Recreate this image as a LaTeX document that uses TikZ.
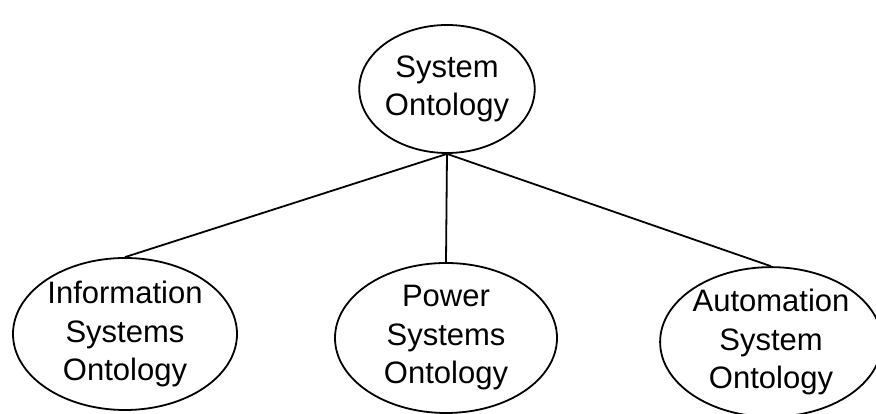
\documentclass[tikz,border=0pt]{standalone}
\usepackage{fontspec}
\setmainfont{Liberation Sans}
\usetikzlibrary{shapes.geometric}
\begin{document}
\begin{tikzpicture}[x=1pt,y=1pt,
  onto/.style={ellipse,draw,line width=1.8pt,inner sep=0pt,align=center,
    font=\fontsize{31}{38.5}\selectfont},
  link/.style={line width=1.8pt}]
\useasboundingbox (0,0) rectangle (876,414);
\node[onto,minimum width=122pt,minimum height=128pt] (sys) at (447,325) {System\\Ontology};
\node[onto,minimum width=224pt,minimum height=152pt] (info) at (125,80) {Information\\Systems\\Ontology};
\node[onto,minimum width=222pt,minimum height=150pt] (power) at (446,76) {Power\\Systems\\Ontology};
\node[onto,minimum width=212pt,minimum height=144pt] (auto) at (771,72) {Automation\\System\\Ontology};
\draw[link] (sys.south) -- (info.north);
\draw[link] (sys.south) -- (power.north);
\draw[link] (sys.south) -- (auto.north);
\end{tikzpicture}
\end{document}
